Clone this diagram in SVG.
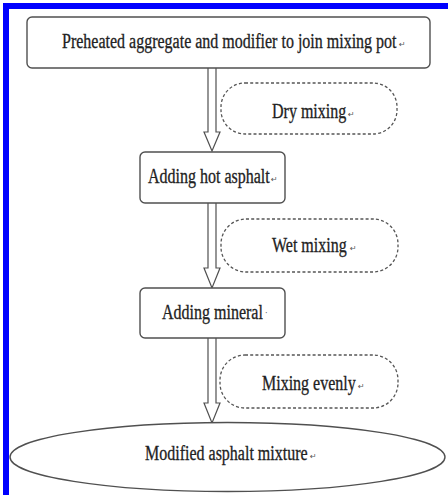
<svg xmlns="http://www.w3.org/2000/svg" width="448" height="495" viewBox="0 0 448 495">
  <style>
    .box { fill: #ffffff; stroke: #505050; stroke-width: 1.4; }
    .note { fill: none; stroke: #555555; stroke-width: 1.3; stroke-dasharray: 3 2.2; }
    .lbl { font-family: "Liberation Serif", "Times New Roman", serif; font-size: 20px; fill: #222222; stroke: #222222; stroke-width: 0.3; }
    .mark { font-family: "DejaVu Sans", sans-serif; font-size: 8px; fill: #555555; }
    .shaft { fill: #ffffff; stroke: #505050; stroke-width: 1.2; }
  </style>

  <!-- frame -->
  <rect x="0" y="0" width="448" height="495" fill="#ffffff"/>
  <rect x="3" y="3" width="445" height="6" fill="#0000ff"/>
  <rect x="3" y="3" width="6" height="492" fill="#0000ff"/>

  <!-- hollow block arrows between the steps -->
  <g id="connectors">
    <path class="shaft" d="M208 68 V132 H204 L212 151 L220 132 H216 V68"/>
    <path class="shaft" d="M208 203 V268 H204 L212 288 L220 268 H216 V203"/>
    <path class="shaft" d="M208 338 V403 H204 L212 423 L220 403 H216 V338"/>
  </g>

  <!-- labels use a narrowed serif: scale(0.8,1) about each label's start -->
  <g id="step-preheat">
    <rect class="box" x="27" y="17" width="403" height="51" rx="5"/>
    <text class="lbl" transform="translate(62 48) scale(0.8 1)">Preheated aggregate and modifier to join mixing pot</text>
    <text class="mark" x="399" y="47">↵</text>
  </g>

  <g id="note-dry">
    <rect class="note" x="221" y="83" width="176" height="51" rx="24"/>
    <text class="lbl" transform="translate(272 118) scale(0.8 1)">Dry mixing</text>
    <text class="mark" x="348" y="117">↵</text>
  </g>

  <g id="step-asphalt">
    <rect class="box" x="140" y="152" width="145" height="51" rx="5"/>
    <text class="lbl" transform="translate(148 183) scale(0.8 1)">Adding hot asphalt</text>
    <text class="mark" x="271" y="182">↵</text>
  </g>

  <g id="note-wet">
    <rect class="note" x="221" y="219" width="177" height="53" rx="25"/>
    <text class="lbl" transform="translate(272 252) scale(0.8 1)">Wet mixing</text>
    <text class="mark" x="350" y="251">↵</text>
  </g>

  <g id="step-mineral">
    <rect class="box" x="140" y="288" width="145" height="50" rx="5"/>
    <text class="lbl" transform="translate(162 319) scale(0.8 1)">Adding mineral</text>
    <text class="mark" x="265" y="316">·</text>
  </g>

  <g id="note-even">
    <rect class="note" x="220" y="355" width="178" height="53" rx="25"/>
    <text class="lbl" transform="translate(262 390) scale(0.8 1)">Mixing evenly</text>
    <text class="mark" x="358" y="389">↵</text>
  </g>

  <g id="result">
    <ellipse class="box" cx="227.5" cy="457" rx="217.5" ry="34.5"/>
    <text class="lbl" transform="translate(145 460) scale(0.8 1)">Modified asphalt mixture</text>
    <text class="mark" x="310" y="459">↵</text>
  </g>
</svg>
